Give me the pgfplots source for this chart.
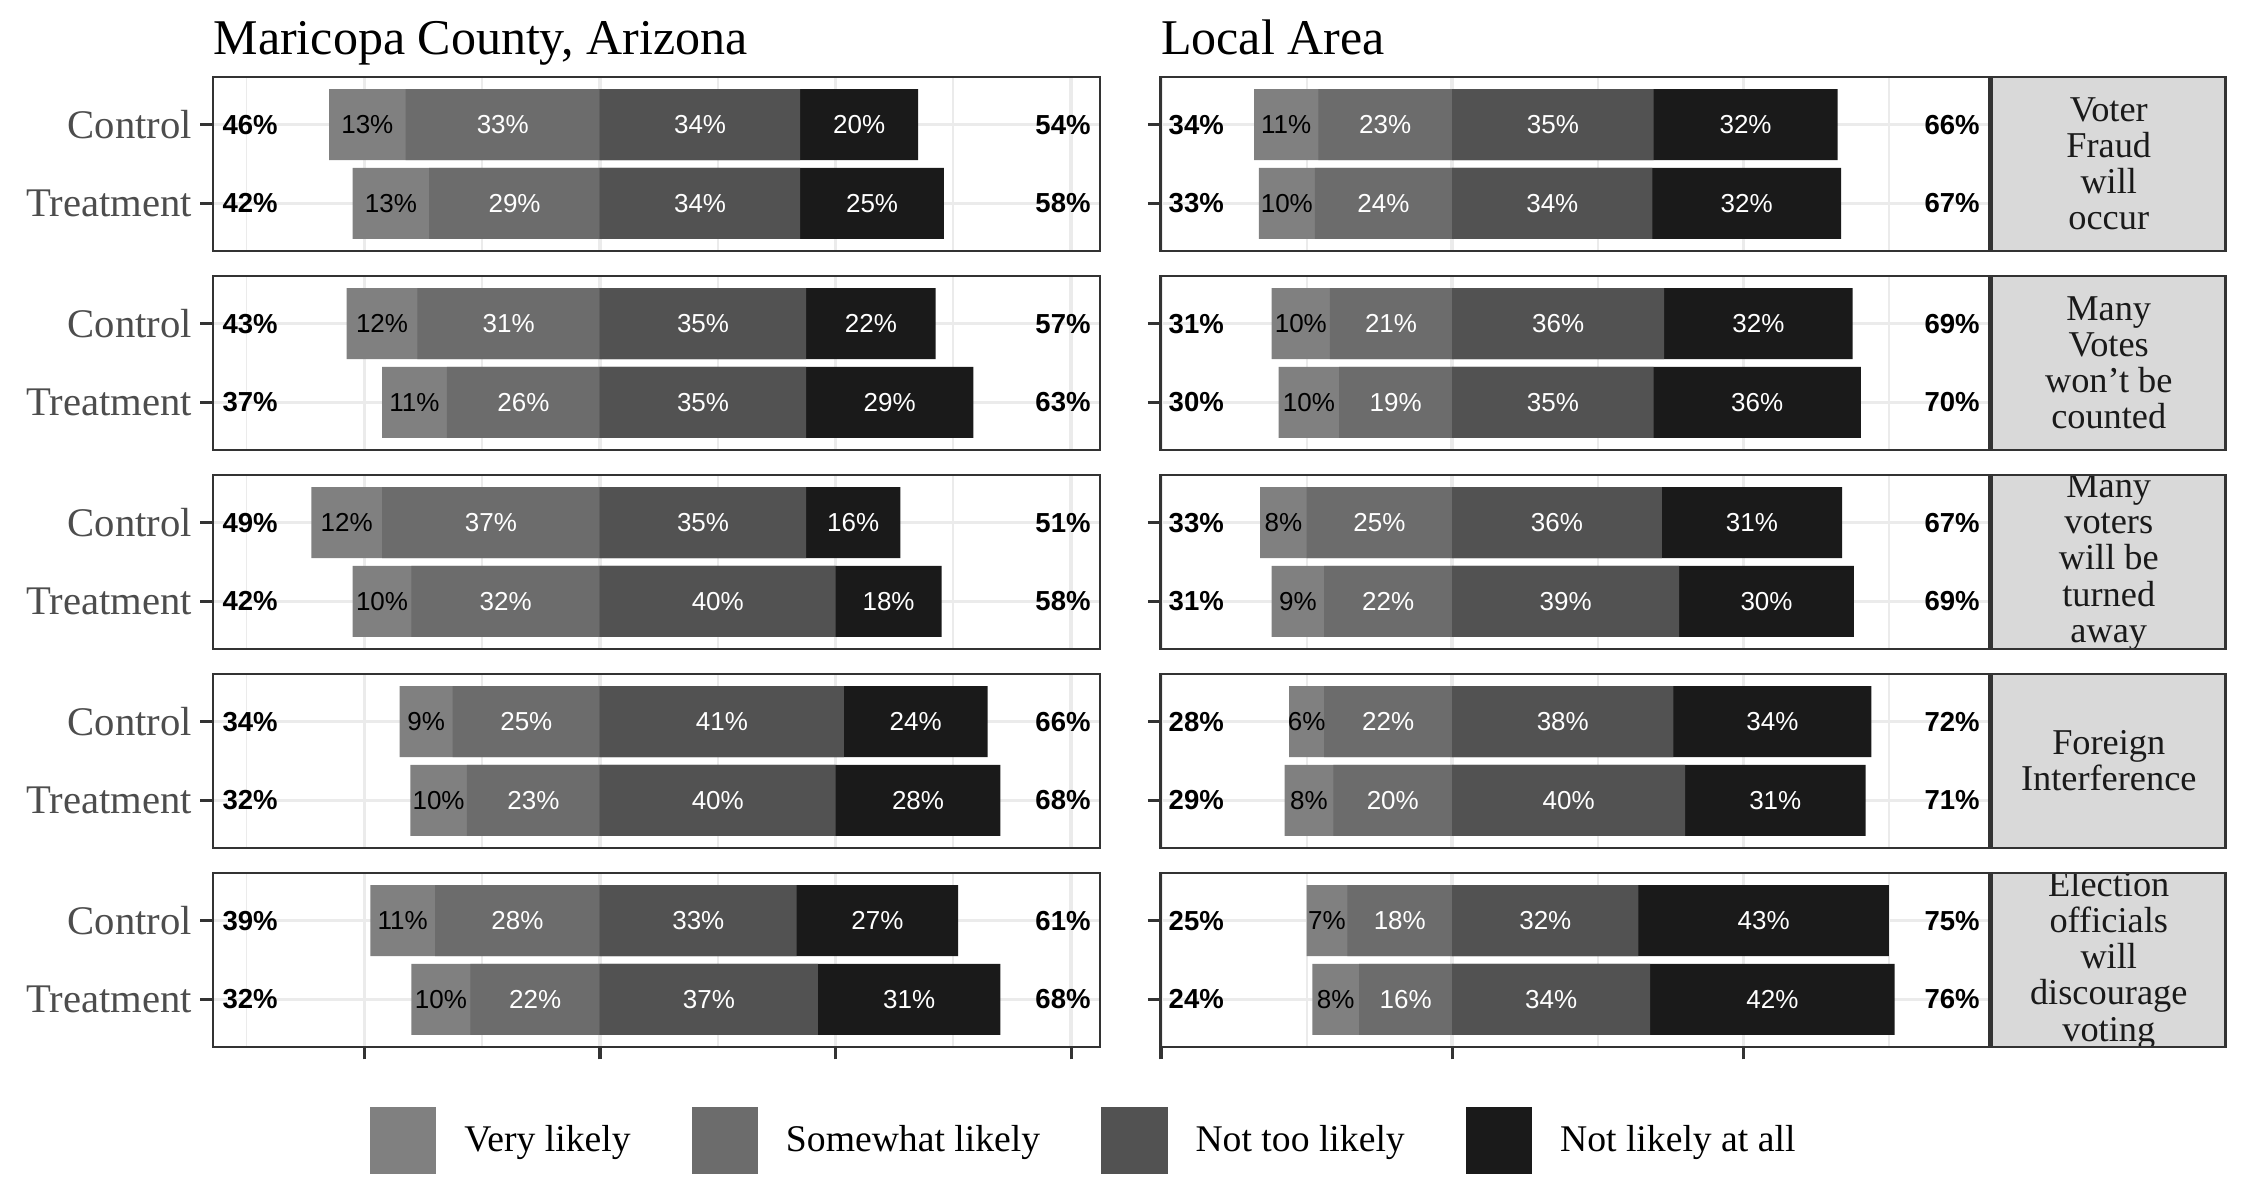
\documentclass[border=0pt]{standalone}
\usepackage{fontspec}
\setmainfont{Liberation Serif}
\setsansfont{Liberation Sans}
\usepackage{pgfplots}
\usepackage{pgfplotstable}
\pgfplotsset{compat=1.18}

\definecolor{cVL}{HTML}{808080}
\definecolor{cSW}{HTML}{6C6C6C}
\definecolor{cNT}{HTML}{525252}
\definecolor{cNA}{HTML}{1A1A1A}
\definecolor{cStrip}{HTML}{D9D9D9}
\definecolor{cStripText}{HTML}{1A1A1A}
\definecolor{cBorder}{HTML}{333333}
\definecolor{cGrid}{HTML}{EBEBEB}
\definecolor{cAxText}{HTML}{4D4D4D}

\newcommand\barfont{\sffamily\fontsize{7.8}{8}\selectfont}
\newcommand\totfont{\sffamily\bfseries\fontsize{8.25}{9}\selectfont}
\newcommand\axfont{\fontsize{12.2}{14}\selectfont}
\newcommand\stripfont{\fontsize{10.9}{10.85}\selectfont}
\newcommand\legfont{\fontsize{11.3}{13}\selectfont}
\newcommand\titlefont{\fontsize{15}{17}\selectfont}

% columns: y, segment values (vl sw nt na), printed labels, totals L (left) R (right)
\pgfplotstableread{
y vl sw nt na lvl lsw lnt lna L R
2 13 33 34 20 13 33 34 20 46 54
1 13 29 34 24.4 13 29 34 25 42 58
}\tMa
\pgfplotstableread{
y vl sw nt na lvl lsw lnt lna L R
2 12 31 35 22 12 31 35 22 43 57
1 11 26 35 28.4 11 26 35 29 37 63
}\tMb
\pgfplotstableread{
y vl sw nt na lvl lsw lnt lna L R
2 12 37 35 16 12 37 35 16 49 51
1 10 32 40 18 10 32 40 18 42 58
}\tMc
\pgfplotstableread{
y vl sw nt na lvl lsw lnt lna L R
2 9 25 41.4 24.4 9 25 41 24 34 66
1 9.6 22.6 40 28 10 23 40 28 32 68
}\tMd
\pgfplotstableread{
y vl sw nt na lvl lsw lnt lna L R
2 11 28 33.4 27.4 11 28 33 27 39 61
1 10 22 37 31 10 22 37 31 32 68
}\tMe
\pgfplotstableread{
y vl sw nt na lvl lsw lnt lna L R
2 11 23 34.6 31.6 11 23 35 32 34 66
1 9.6 23.6 34.4 32.4 10 24 34 32 33 67
}\tLa
\pgfplotstableread{
y vl sw nt na lvl lsw lnt lna L R
2 10 21 36.4 32.4 10 21 36 32 31 69
1 10.4 19.4 34.6 35.6 10 19 35 36 30 70
}\tLb
\pgfplotstableread{
y vl sw nt na lvl lsw lnt lna L R
2 8 25 36 31 8 25 36 31 33 67
1 9 22 39 30 9 22 39 30 31 69
}\tLc
\pgfplotstableread{
y vl sw nt na lvl lsw lnt lna L R
2 6 22 38 34 6 22 38 34 28 72
1 8.4 20.4 40 31 8 20 40 31 29 71
}\tLd
\pgfplotstableread{
y vl sw nt na lvl lsw lnt lna L R
2 7 18 32 43 7 18 32 43 25 75
1 8 16 34 42 8 16 34 42 24 76
}\tLe

\pgfplotsset{
  seg/.style={xbar, bar width=0.9, bar shift=0pt, draw=none, fill=#1, forget plot},
  lab/.style={only marks, mark=*, mark size=0pt,
    scatter/use mapped color={draw=none, fill=none, draw opacity=0, fill opacity=0},
    mark options={draw=none, fill=none, draw opacity=0, fill opacity=0},
    forget plot, point meta=explicit symbolic,
    nodes near coords={\pgfplotspointmeta\%}, nodes near coords align=center,
    nodes near coords style={font=\barfont, text=#1, inner sep=0pt, text opacity=1}},
  tot/.style={only marks, mark=*, mark size=0pt,
    scatter/use mapped color={draw=none, fill=none, draw opacity=0, fill opacity=0},
    mark options={draw=none, fill=none, draw opacity=0, fill opacity=0},
    forget plot, point meta=explicit symbolic,
    nodes near coords={\pgfplotspointmeta\%}, nodes near coords align=#1,
    nodes near coords style={font=\totfont, text=black, inner sep=0pt, text opacity=1}},
  panel/.style={anchor=north west, scale only axis, height=52.02pt,
    ymin=0.4, ymax=2.6, ytick={1,2}, enlargelimits=false,
    axis line style={draw=cBorder, line width=0.7pt},
    xmajorgrids=true, xminorgrids=true, ymajorgrids=true,
    major grid style={draw=cGrid, line width=1.05pt},
    minor grid style={draw=cGrid, line width=0.55pt},
    tick pos=left, tick align=outside,
    major tick length=3.8pt, minor tick length=0pt,
    tick style={draw=cBorder, line width=1pt},
    xticklabels={,,,,,},
    yticklabel style={font=\axfont, text=cAxText, xshift=1pt}},
  leftp/.style={panel, width=266.1pt, xmin=-65.7, xmax=84.9,
    xtick={-40,0,40,80}, minor xtick={-60,-20,20,60},
    yticklabels={Treatment,Control}},
  rightp/.style={panel, width=248.7pt, xmin=-50.1, xmax=92.3,
    xtick={-50,0,50}, minor xtick={-25,25,75},
    yticklabels={,,}},
  notick/.style={xtick style={draw=none}},
  limg/.style={legend image code/.code={\fill[#1] (0pt,-9.6pt) rectangle (19.5pt,9.9pt);}},
}

\newcommand\bars[3]{%
  \addplot[seg=cVL] table[x expr=-\thisrow{vl}-\thisrow{sw}, y=y]{#1};
  \addplot[seg=cSW] table[x expr=-\thisrow{sw}, y=y]{#1};
  \addplot[seg=cNA] table[x expr=\thisrow{nt}+\thisrow{na}, y=y]{#1};
  \addplot[seg=cNT] table[x expr=\thisrow{nt}, y=y]{#1};
  \addplot[lab=black] table[x expr=-\thisrow{sw}-0.5*\thisrow{vl}, y=y, meta=lvl]{#1};
  \addplot[lab=white] table[x expr=-0.5*\thisrow{sw}, y=y, meta=lsw]{#1};
  \addplot[lab=white] table[x expr=0.5*\thisrow{nt}, y=y, meta=lnt]{#1};
  \addplot[lab=white] table[x expr=\thisrow{nt}+0.5*\thisrow{na}, y=y, meta=lna]{#1};
  \addplot[tot=west] table[x expr=#2, y=y, meta=L]{#1};
  \addplot[tot=east] table[x expr=#3, y=y, meta=R]{#1};
}

\newcommand\strip[2]{%
  \begin{scope}
    \clip (597.6pt,#1) rectangle ++(70.05pt,-52.02pt);
    \fill[cStrip] (597.6pt,#1) rectangle ++(70.05pt,-52.02pt);
    \node[align=center, font=\stripfont, text=cStripText, inner sep=0pt, yshift=-26.01pt]
      at (632.625pt,#1) {#2};
  \end{scope}
  \draw[cBorder, line width=0.7pt] (597.6pt,#1) rectangle ++(70.05pt,-52.02pt);
}

\begin{document}
\begin{tikzpicture}
\useasboundingbox (0pt,0pt) rectangle (675pt,-360pt);

% ---- Maricopa County column ----
\begin{axis}[leftp, notick, at={(63.9pt,-23.19pt)},
  title={Maricopa County, Arizona},
  title style={at={(0,1)}, anchor=base west, yshift=0.7pt, font=\titlefont, inner sep=0pt}]
\bars{\tMa}{-64.2}{83.4}
\end{axis}
\begin{axis}[leftp, notick, at={(63.9pt,-82.89pt)}]
\bars{\tMb}{-64.2}{83.4}
\end{axis}
\begin{axis}[leftp, notick, at={(63.9pt,-142.59pt)}]
\bars{\tMc}{-64.2}{83.4}
\end{axis}
\begin{axis}[leftp, notick, at={(63.9pt,-202.29pt)}]
\bars{\tMd}{-64.2}{83.4}
\end{axis}
\begin{axis}[leftp, at={(63.9pt,-261.99pt)},
  legend columns=4,
  legend style={at={(0.177,-0.541)}, anchor=west, draw=none, fill=none,
    inner sep=0pt, outer sep=0pt, font=\legfont,
    nodes={inner sep=0pt},
    /tikz/every odd column/.append style={column sep=8.4pt},
    /tikz/every even column/.append style={column sep=18.3pt}}]
\bars{\tMe}{-64.2}{83.4}
\addlegendimage{limg=cVL}\addlegendentry{Very likely}
\addlegendimage{limg=cSW}\addlegendentry{Somewhat likely}
\addlegendimage{limg=cNT}\addlegendentry{Not too likely}
\addlegendimage{limg=cNA}\addlegendentry{Not likely at all}
\end{axis}

% ---- Local Area column ----
\begin{axis}[rightp, notick, at={(348.15pt,-23.19pt)},
  title={Local Area},
  title style={at={(0,1)}, anchor=base west, yshift=0.7pt, font=\titlefont, inner sep=0pt}]
\bars{\tLa}{-48.8}{90.7}
\end{axis}
\begin{axis}[rightp, notick, at={(348.15pt,-82.89pt)}]
\bars{\tLb}{-48.8}{90.7}
\end{axis}
\begin{axis}[rightp, notick, at={(348.15pt,-142.59pt)}]
\bars{\tLc}{-48.8}{90.7}
\end{axis}
\begin{axis}[rightp, notick, at={(348.15pt,-202.29pt)}]
\bars{\tLd}{-48.8}{90.7}
\end{axis}
\begin{axis}[rightp, at={(348.15pt,-261.99pt)}]
\bars{\tLe}{-48.8}{90.7}
\end{axis}

% ---- facet strips ----
\strip{-23.19pt}{Voter\\Fraud\\will\\occur}
\strip{-82.89pt}{Many\\Votes\\won't be\\counted}
\strip{-142.59pt}{Many\\voters\\will be\\turned\\away}
\strip{-202.29pt}{Foreign\\Interference}
\strip{-261.99pt}{Election\\officials\\will\\discourage\\voting}
\end{tikzpicture}
\end{document}
